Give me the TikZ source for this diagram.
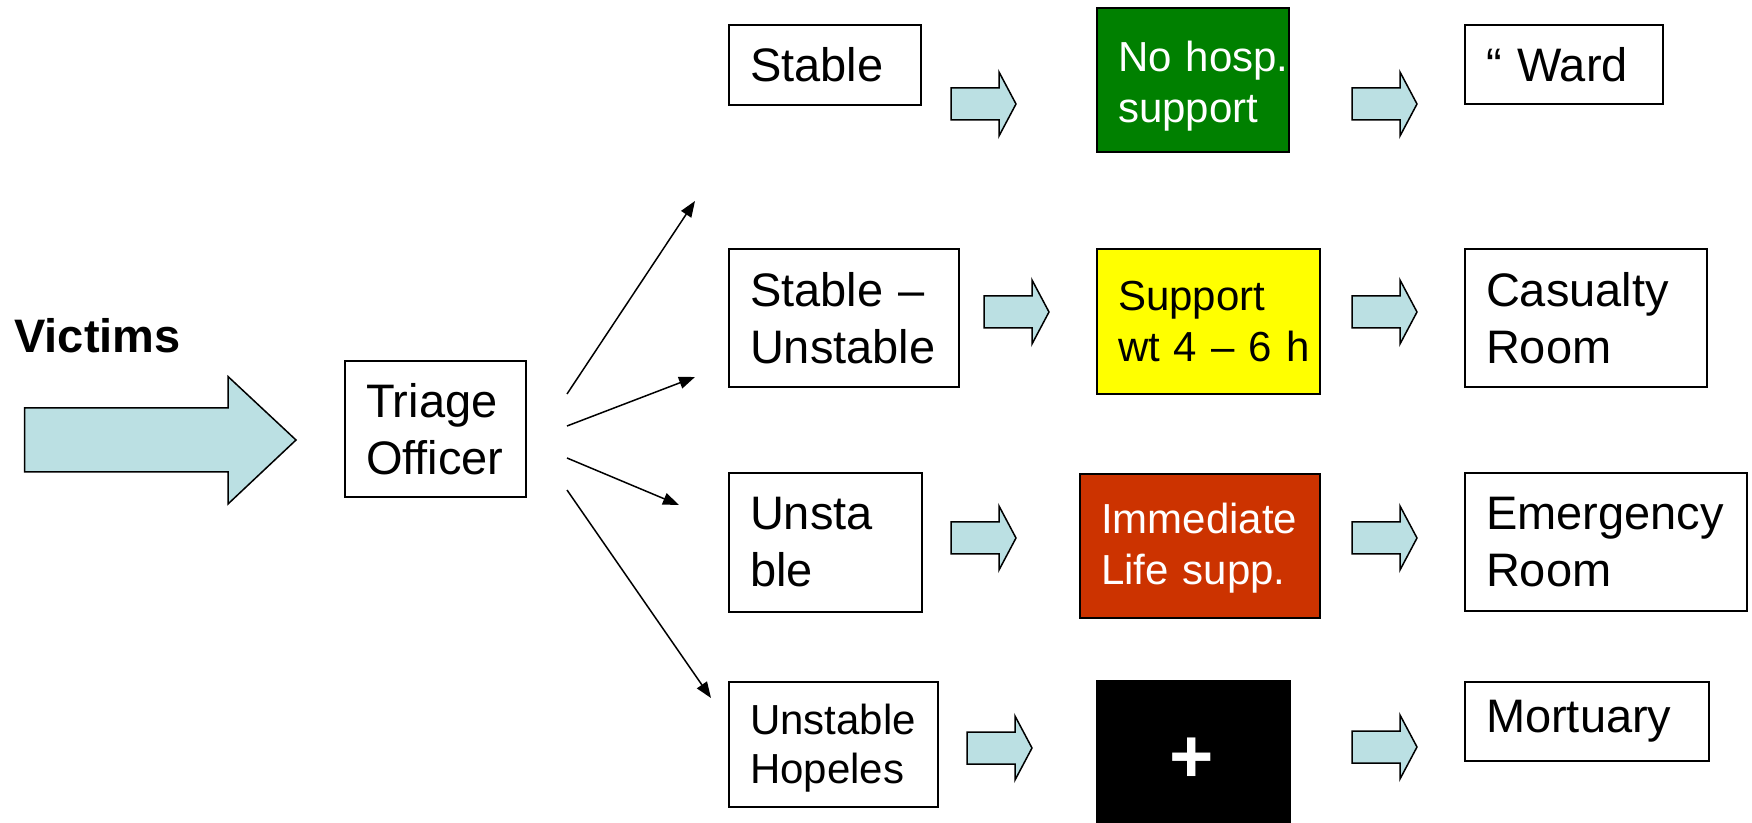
\documentclass[tikz,border=0pt]{standalone}
\usepackage{fontspec}
\setmainfont{Liberation Sans}
\usetikzlibrary{arrows.meta}
\definecolor{arrowfill}{HTML}{BBE0E3}
\definecolor{boxgreen}{HTML}{008000}
\definecolor{boxyellow}{HTML}{FFFF00}
\definecolor{boxred}{HTML}{CC3300}
\newcommand{\bigfont}{\fontsize{23.5pt}{28.5pt}\selectfont}
\newcommand{\midfont}{\fontsize{21pt}{25.5pt}\selectfont}
\newcommand{\smallerfont}{\fontsize{21pt}{24.5pt}\selectfont}
\tikzset{
  box/.style={draw, line width=1pt, fill=white, anchor=north west, align=left,
    inner xsep=10.5pt, inner ysep=0pt, font=\bigfont},
  colbox/.style={box, font=\midfont},
  barrowstyle/.style={draw=black, line width=0.75pt, fill=arrowfill, line join=miter},
  barrow/.pic={\draw[barrowstyle] (0,-16) -- (48,-16) -- (48,-32) -- (65,0) -- (48,32) -- (48,16) -- (0,16) -- cycle;},
  fan/.style={line width=0.75pt, -{Triangle[length=8pt,width=6pt]}}
}
\begin{document}
\begin{tikzpicture}[x=0.5pt, y=-0.5pt]
\useasboundingbox (0,0) rectangle (1752,823);
\fill[white] (0,0) rectangle (1752,823);

% Victims and big arrow
\node[anchor=base west, inner sep=0pt, font=\bfseries\bigfont] (victims) at (14,353) {Victims};
\draw[barrowstyle] (24.6,408) -- (228,408) -- (228,376.5) -- (296,440) -- (228,504) -- (228,472) -- (24.6,472) -- cycle;

% Triage
\node[box, text width=69.5pt, minimum height=68pt] (triage) at (344,360) {Triage\\Officer};

% fan arrows
\coordinate (f1s) at (567,394); \coordinate (f1e) at (695,201);
\coordinate (f2s) at (567,426); \coordinate (f2e) at (695,377);
\coordinate (f3s) at (567,458); \coordinate (f3e) at (679,505);
\coordinate (f4s) at (567,490); \coordinate (f4e) at (711,698);
\draw[fan] (f1s) -- (f1e);
\draw[fan] (f2s) -- (f2e);
\draw[fan] (f3s) -- (f3e);
\draw[fan] (f4s) -- (f4e);

% column 1
\node[box, text width=75pt, minimum height=40pt] (stable) at (728,24) {Stable};
\node[box, text width=94pt, minimum height=69pt] (stun) at (728,248) {\mbox{Stable --}\\Unstable};
\node[box, text width=75.5pt, minimum height=69.5pt] (unst) at (728,472) {Unsta\\ble};
\node[box, font=\smallerfont, text width=83.5pt, minimum height=62.5pt] (hope) at (728,681) {\rule{0pt}{18.7pt}Unstable\\Hopeles};

% column 2
\node[colbox, fill=boxgreen, text=white, text width=75pt, minimum height=72pt] (green) at (1096,7) {\rule{0pt}{21pt}\mbox{No hosp.}\\support};
\node[colbox, fill=boxyellow, text width=90.5pt, minimum height=72.5pt] (yellow) at (1096,248) {Support\\\mbox{wt 4 -- 6 h}};
\node[colbox, fill=boxred, text=white, text width=99pt, minimum height=72pt] (red) at (1079,473) {\rule{0pt}{17.5pt}\mbox{Immediate}\\\mbox{Life supp.}};
\node[box, fill=black, text width=75.5pt, minimum height=71pt] (black) at (1096,680) {};
\node[font=\bfseries\fontsize{38pt}{40pt}\selectfont, text=white, inner sep=0pt] (plus) at (1191.7,760) {+};

% column 3
\node[box, text width=78pt, minimum height=39.5pt] (ward) at (1464,24) {\mbox{\char"201C{} Ward}};
\node[box, text width=100pt, minimum height=69pt] (cas) at (1464,248) {Casualty\\Room};
\node[box, text width=120pt, minimum height=69pt] (emer) at (1464,472) {Emergency\\Room};
\node[box, text width=101pt, minimum height=39.5pt] (mort) at (1464,681) {Mortuary};

% block arrows
\pic at (951,104) {barrow};
\pic at (984,312) {barrow};
\pic at (951,538) {barrow};
\pic at (967,748) {barrow};
\pic at (1352,104) {barrow};
\pic at (1352,312) {barrow};
\pic at (1352,538) {barrow};
\pic at (1352,747) {barrow};
\end{tikzpicture}
\end{document}
